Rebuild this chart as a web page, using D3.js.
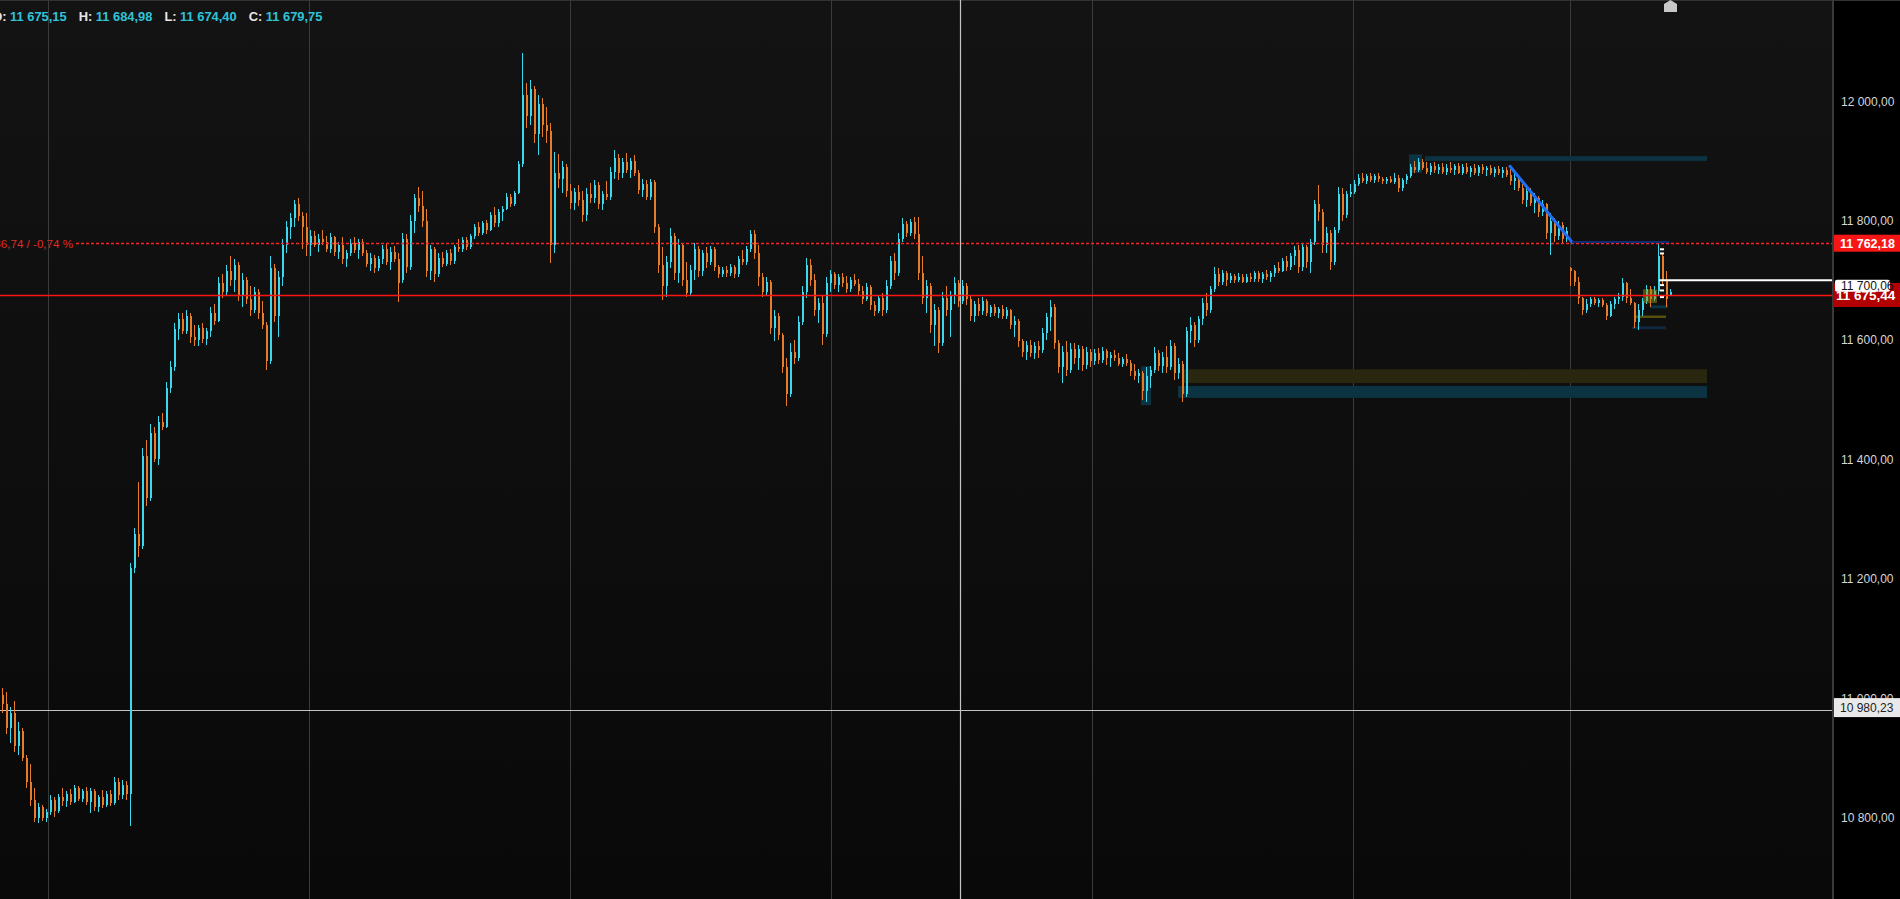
<!DOCTYPE html>
<html><head><meta charset="utf-8">
<script src="https://cdn.jsdelivr.net/npm/d3@7"></script>
<style>
html,body{margin:0;padding:0;background:#000;overflow:hidden;}
svg{display:block;}
</style></head><body>
<svg id="chart" width="1900" height="899"></svg>
<script>
// ---------- DATA (OHLC bars, one array per session) ----------
const session0 = [
[11005,11018,10975,10990],[10990,11011,10940,10950],[10950,10985,10925,10975],[10975,10995,10910,10920],
[10920,10960,10905,10945],[10945,10950,10895,10900],[10900,10905,10850,10860],[10860,10890,10820,10830],
[10830,10850,10792,10800],[10800,10825,10791,10818],[10818,10822,10795,10800],[10800,10815,10792,10810],
[10810,10838,10805,10830],[10830,10835,10801,10812],[10812,10840,10808,10835],[10835,10850,10820,10828],
[10828,10845,10818,10840],[10840,10848,10822,10826],[10826,10855,10825,10850],[10850,10853,10828,10832],
[10832,10848,10826,10844],[10844,10852,10822,10826],[10826,10850,10808,10845],[10845,10848,10812,10818],
[10818,10838,10810,10834],[10834,10847,10817,10822],[10822,10845,10818,10840],[10840,10846,10820,10825],
[10825,10868,10822,10860],[10860,10866,10830,10838],[10838,10863,10832,10855],[10855,10862,10830,10840],
[10840,11226,10786,11218]];
const session1 = [
[11218,11285,11210,11275],[11275,11362,11237,11255],[11255,11420,11250,11405],[11405,11433,11322,11335],
[11335,11460,11330,11445],[11445,11455,11395,11400],[11400,11472,11390,11462],[11462,11477,11450,11455],
[11455,11530,11452,11520],[11520,11565,11512,11555],[11555,11628,11548,11618],[11618,11645,11600,11635],
[11635,11645,11610,11615],[11615,11650,11610,11640],[11640,11645,11595,11605],[11605,11625,11590,11600],
[11600,11625,11590,11620],[11620,11628,11595,11602],[11602,11620,11592,11615],[11615,11655,11605,11645],
[11645,11660,11625,11632],[11632,11705,11630,11695],[11695,11710,11670,11680],[11680,11725,11675,11715],
[11715,11740,11690,11700],[11700,11735,11680,11725],[11725,11730,11665,11675],[11675,11712,11655,11700],
[11700,11705,11660,11668],[11668,11690,11640,11650],[11650,11688,11645,11680],[11680,11686,11635,11645],
[11645,11665,11618,11625],[11625,11630,11550,11565],[11565,11740,11560,11720],[11720,11728,11630,11640],
[11640,11715,11605,11705],[11705,11770,11690,11760],[11760,11800,11745,11790],[11790,11812,11770,11805],
[11805,11835,11790,11828],[11828,11838,11800,11808],[11808,11815,11752,11790],[11790,11812,11740,11760]];
const session2 = [
[11760,11785,11740,11775],[11775,11782,11755,11760],[11760,11778,11748,11770],[11770,11784,11760,11765],
[11765,11775,11748,11752],[11752,11780,11746,11772],[11772,11775,11740,11748],[11748,11765,11735,11760],
[11760,11772,11728,11735],[11735,11750,11722,11745],[11745,11770,11740,11762],[11762,11772,11745,11750],
[11750,11770,11735,11765],[11765,11770,11740,11745],[11745,11750,11722,11728],[11728,11745,11715,11738],
[11738,11742,11712,11720],[11720,11740,11715,11735],[11735,11760,11728,11752],[11752,11762,11725,11730],
[11730,11755,11718,11748],[11748,11758,11730,11735],[11735,11746,11663,11695],[11700,11780,11695,11770],
[11770,11778,11712,11722],[11722,11810,11718,11800],[11800,11845,11780,11838],[11838,11856,11815,11825],
[11825,11850,11790,11800],[11800,11820,11705,11715],[11715,11760,11700,11752],[11752,11756,11698,11710],
[11710,11745,11705,11738],[11738,11748,11722,11728],[11728,11750,11724,11745],[11745,11752,11725,11732],
[11732,11760,11728,11755],[11755,11770,11748,11752],[11752,11772,11748,11768],[11768,11772,11750,11756],
[11756,11778,11752,11775],[11775,11795,11770,11790],[11790,11798,11775,11780],[11780,11800,11776,11796],
[11796,11801,11778,11784],[11784,11815,11782,11810],[11810,11823,11790,11796],[11796,11820,11790,11815],
[11815,11825,11800,11820],[11820,11846,11818,11840],[11840,11845,11822,11828],[11828,11850,11824,11846],
[11846,11900,11845,11895],[11895,12080,11890,12010],[12010,12030,11955,11975],[11975,12035,11960,12020],
[12020,12025,11930,11945],[11945,12010,11910,11995],[11995,12005,11940,11960],[11960,11990,11930,11950],
[11950,11963,11729,11760],[11760,11915,11746,11880],[11880,11912,11855,11870],[11870,11900,11846,11890],
[11890,11895,11840,11850],[11850,11862,11820,11830]];
const session3 = [
[11830,11855,11818,11848],[11848,11860,11825,11835],[11835,11850,11797,11810],[11810,11855,11800,11845],
[11845,11863,11830,11838],[11838,11868,11830,11860],[11860,11864,11820,11828],[11828,11850,11818,11845],
[11845,11866,11835,11840],[11840,11890,11835,11882],[11882,11918,11870,11905],[11905,11912,11868,11880],
[11880,11905,11872,11898],[11898,11913,11880,11885],[11885,11905,11872,11900],[11900,11910,11875,11880],
[11880,11885,11845,11852],[11852,11870,11840,11862],[11862,11868,11834,11840],[11840,11870,11835,11865],
[11865,11868,11780,11790],[11790,11795,11712,11725],[11725,11756,11667,11690],[11690,11740,11672,11730],
[11730,11787,11720,11775],[11775,11780,11700,11712],[11712,11770,11695,11760],[11760,11762,11690,11700],
[11700,11730,11672,11678],[11678,11725,11675,11718],[11718,11762,11700,11752],[11752,11758,11705,11715],
[11715,11750,11708,11745],[11745,11755,11720,11730],[11730,11758,11725,11752],[11752,11756,11715,11722],
[11722,11725,11704,11710],[11710,11722,11705,11718],[11718,11724,11706,11712],[11712,11728,11708,11722],
[11722,11726,11704,11710],[11710,11740,11705,11735],[11735,11750,11725,11730],[11730,11758,11726,11752],
[11752,11784,11748,11778],[11778,11785,11735,11745],[11745,11760,11690,11705],[11705,11712,11672,11680],
[11680,11705,11675,11698],[11698,11700,11610,11620],[11620,11650,11598,11640],[11640,11645,11600,11608],
[11608,11612,11545,11555],[11555,11570,11490,11510],[11510,11595,11505,11580],[11580,11600,11560,11570],
[11570,11640,11565,11630],[11630,11690,11625,11680],[11680,11738,11670,11725],[11725,11735,11690,11700],
[11700,11710,11640,11650],[11650,11670,11628,11662],[11662,11675,11592,11610],[11610,11705,11605,11695],
[11695,11718,11680,11710]];
const session4 = [
[11710,11714,11685,11692],[11692,11710,11680,11705],[11705,11712,11688,11695],[11695,11708,11678,11685],
[11685,11705,11680,11700],[11700,11710,11690,11694],[11694,11702,11675,11682],[11682,11690,11660,11668],
[11668,11695,11665,11688],[11688,11692,11650,11658],[11658,11665,11640,11648],[11648,11675,11645,11670],
[11670,11678,11640,11650],[11650,11700,11645,11690],[11690,11740,11685,11732],[11732,11745,11700,11712],
[11712,11780,11708,11770],[11770,11805,11765,11795],[11795,11800,11772,11780],[11780,11802,11775,11798],
[11798,11806,11770,11778],[11778,11806,11700,11712],[11712,11740,11660,11670],[11670,11700,11645,11690],
[11690,11695,11612,11625],[11625,11660,11590,11650],[11650,11655,11578,11595],[11595,11680,11590,11670],
[11670,11690,11640,11650],[11650,11682,11605,11675],[11675,11705,11660,11695],[11695,11700,11655,11665],
[11665,11700,11660,11690],[11690,11695,11658,11668],[11668,11676,11632,11640],[11640,11665,11630,11660],
[11660,11670,11640,11648],[11648,11672,11642,11666],[11666,11668,11640,11645],[11645,11658,11638,11655],
[11655,11660,11640,11645],[11645,11656,11637,11652],[11652,11658,11635,11640],[11640,11655,11636,11650],
[11650,11652,11618,11625],[11625,11640,11605,11632],[11632,11636,11588,11598],[11598,11602,11572,11580],
[11580,11598,11566,11592],[11592,11600,11572,11578],[11578,11596,11568,11590],[11590,11598,11570,11584],
[11584,11620,11578,11612],[11612,11645,11600,11638],[11638,11667,11615,11655],[11655,11660,11585,11595],
[11595,11600,11545,11555],[11555,11590,11528,11580],[11580,11598,11540,11550],[11550,11595,11545,11585],
[11585,11595,11560,11570],[11570,11592,11550,11585],[11585,11590,11548,11558],[11558,11588,11552,11580],
[11580,11585,11555,11565]];
const session5 = [
[11565,11585,11558,11578],[11578,11586,11560,11566],[11566,11588,11562,11582],[11582,11585,11558,11570],
[11570,11580,11555,11575],[11575,11584,11565,11570],[11570,11578,11556,11560],[11560,11572,11555,11568],
[11568,11576,11556,11562],[11562,11566,11540,11548],[11548,11560,11533,11540],[11540,11552,11528,11545],
[11545,11548,11500,11515],[11515,11555,11496,11540],[11540,11556,11520,11550],[11550,11588,11545,11578],
[11578,11584,11548,11556],[11556,11580,11545,11572],[11572,11590,11545,11555],[11555,11600,11550,11590],
[11590,11595,11533,11545],[11545,11570,11535,11560],[11560,11565,11496,11510],[11510,11622,11505,11615],
[11615,11638,11595,11625],[11625,11630,11588,11600],[11600,11640,11595,11635],[11635,11670,11625,11662],
[11662,11679,11640,11650],[11650,11690,11645,11685],[11685,11722,11680,11710],[11710,11720,11690,11698],
[11698,11718,11692,11712],[11712,11715,11690,11700],[11700,11712,11696,11708],[11708,11710,11695,11700],
[11700,11712,11697,11706],[11706,11710,11695,11698],[11698,11710,11696,11705],[11705,11712,11697,11702],
[11702,11715,11698,11712],[11712,11716,11698,11702],[11702,11714,11695,11710],[11710,11717,11700,11705],
[11705,11716,11698,11712],[11712,11725,11705,11720],[11720,11730,11712,11716],[11716,11738,11714,11732],
[11732,11740,11715,11722],[11722,11746,11718,11740],[11740,11758,11725,11750],[11750,11760,11712,11722],
[11722,11762,11715,11755],[11755,11760,11720,11730],[11730,11770,11712,11765],[11765,11835,11760,11828],
[11828,11860,11800,11815],[11815,11820,11746,11760],[11760,11790,11745,11780],[11780,11785,11717,11730],
[11730,11790,11725,11785],[11785,11856,11780,11845],[11845,11855,11800,11810],[11810,11850,11805,11845],
[11845,11862,11840,11848],[11848,11868,11845,11862]];
const session6 = [
[11862,11878,11858,11872],[11872,11880,11863,11866],[11866,11878,11862,11875],[11875,11880,11865,11868],
[11868,11878,11863,11874],[11874,11880,11864,11870],[11870,11873,11862,11866],[11866,11873,11862,11870],
[11870,11874,11863,11865],[11865,11880,11862,11872],[11872,11876,11848,11855],[11855,11872,11850,11868],
[11868,11878,11862,11875],[11875,11895,11872,11890],[11890,11900,11880,11885],[11885,11905,11882,11898],
[11898,11903,11884,11888],[11888,11898,11878,11882],[11882,11896,11876,11892],[11892,11898,11880,11884],
[11884,11895,11878,11890],[11890,11896,11878,11882],[11882,11894,11876,11888],[11888,11898,11880,11885],
[11885,11895,11877,11892],[11892,11896,11878,11880],[11880,11894,11876,11890],[11890,11896,11878,11882],
[11882,11892,11873,11888],[11888,11894,11876,11880],[11880,11893,11874,11890],[11890,11895,11878,11884],
[11884,11892,11875,11888],[11888,11893,11877,11880],[11880,11890,11873,11886],[11886,11892,11876,11879],
[11879,11890,11872,11885],[11885,11889,11873,11876],[11876,11890,11860,11866],[11866,11880,11851,11872],
[11872,11875,11850,11855],[11855,11862,11828,11835],[11835,11858,11823,11850],[11850,11855,11825,11830],
[11830,11846,11812,11838],[11838,11842,11806,11815],[11815,11835,11808,11828],[11828,11830,11770,11780],
[11780,11812,11742,11800],[11800,11805,11765,11775],[11775,11800,11768,11792],[11792,11798,11762,11770],
[11770,11790,11765,11782]];
const session7 = [
[11720,11722,11690,11715],[11715,11718,11690,11698],[11698,11705,11660,11670],[11670,11672,11642,11650],
[11650,11668,11645,11660],[11660,11672,11655,11668],[11668,11672,11658,11662],[11662,11670,11656,11667],
[11667,11670,11655,11658],[11658,11662,11633,11640],[11640,11665,11638,11660],[11660,11672,11652,11668],
[11668,11679,11660,11672],[11672,11704,11665,11695],[11695,11698,11662,11670],[11670,11685,11658,11662],
[11662,11664,11620,11630],[11630,11660,11617,11650],[11650,11670,11640,11665],[11665,11692,11660,11685],
[11685,11690,11655,11668],[11668,11690,11665,11682],[11682,11762,11675,11740],[11740,11746,11690,11700],
[11700,11715,11655,11668],[11675.15,11684.98,11674.40,11679.75]];
const sessions = [session0, session1, session2, session3, session4, session5, session6, session7];
const sessionStart = [0, 33, 77, 143, 208, 273, 339, 392];   // bar number of each session's first bar
const dayBreaks = [11.5, 76.75, 142, 207.25, 272.5, 337.75, 392]; // time gridlines (bar number)
const yTicks = [10800, 11000, 11200, 11400, 11600, 11800, 12000];
const headerLabels = ["O:", "H:", "L:", "C:"];
const headerValues = [11675.15, 11684.98, 11674.40, 11679.75];
const lastPrice = 11675.44;
const refPrice = 11762.18;
const markPrice = 11700.06;
const crossPrice = 10980.23;
const crossBar = 239.5;
// zones: [fromBar, toBar, topPrice, bottomPrice, kind]
const zones = [
  [355.75, 426.25, 11908, 11900, "teal"],
  [351.75, 355, 11911, 11880, "teal"],
  [295.5, 426.25, 11551, 11528, "olive"],
  [294, 426.25, 11523, 11503, "teal"],
  [284.75, 287.25, 11556, 11491, "teal"],
  [412, 416.5, 11658, 11653, "teal"],
  [408.25, 416, 11641, 11637, "oliveLine"],
  [407.5, 416, 11623, 11618, "navy"]
];
const highlight = [410.25, 413.75, 11685, 11662];
const trend = [[377, 11891], [392.5, 11764]];
const flatLevel = [392.5, 416.75, 11764];
const markLineStart = 414.25;
const lastTicks = [11752, 11745, 11692, 11683, 11672];

// ---------- RENDER ----------
const FONT = "'Liberation Sans', Arial, sans-serif";
const W = 1900, H = 899, plotR = 1833;
const svg = d3.select("#chart");
const loc = d3.formatLocale({decimal: ",", thousands: " ", grouping: [3], currency: ["", ""], minus: "-"});
const f2 = loc.format(",.2f");

const bars = [];
sessions.forEach((s, k) => s.forEach((b, j) => bars.push({i: sessionStart[k] + j, o: b[0], h: b[1], l: b[2], c: b[3]})));

const x = d3.scaleLinear().domain([0, 417]).range([2, 1670]);
const y = d3.scaleLinear().domain([10800, 12000]).range([817.7, 101.2]);
const snap = v => Math.round(v) + 0.5;

const defs = svg.append("defs");
const gr = defs.append("linearGradient").attr("id", "bg").attr("x1", 0).attr("y1", 0).attr("x2", 0).attr("y2", 1);
gr.append("stop").attr("offset", "0%").attr("stop-color", "#131313");
gr.append("stop").attr("offset", "100%").attr("stop-color", "#090909");
svg.append("rect").attr("width", plotR).attr("height", H).attr("fill", "url(#bg)");
svg.append("rect").attr("x", plotR).attr("width", W - plotR).attr("height", H).attr("fill", "#000");
svg.append("rect").attr("width", W).attr("height", 1).attr("fill", "#333");

// gridlines
svg.append("g").selectAll("line").data(dayBreaks).join("line")
  .attr("x1", d => snap(x(d))).attr("x2", d => snap(x(d)))
  .attr("y1", 0).attr("y2", H).attr("stroke", "#3b3b3b").attr("stroke-width", 1);

// zones
const zoneColor = {teal: "#0c3341", olive: "#29270f", oliveLine: "#57530f", navy: "#112840"};
svg.append("g").selectAll("rect").data(zones).join("rect")
  .attr("x", d => x(d[0])).attr("width", d => x(d[1]) - x(d[0]))
  .attr("y", d => y(d[2])).attr("height", d => y(d[3]) - y(d[2]))
  .attr("fill", d => zoneColor[d[4]]);

// crosshair
svg.append("line").attr("x1", snap(x(crossBar))).attr("x2", snap(x(crossBar)))
  .attr("y1", 0).attr("y2", H).attr("stroke", "#c4c4c4").attr("stroke-width", 1.2);
svg.append("line").attr("x1", 0).attr("x2", plotR).attr("y1", snap(y(crossPrice))).attr("y2", snap(y(crossPrice)))
  .attr("stroke", "#c4c4c4").attr("stroke-width", 1.2);

// candles
const UP = "#3ed8ec", DN = "#e67d2c";
const col = d => d.c >= d.o ? UP : DN;
const gC = svg.append("g").attr("shape-rendering", "crispEdges");
gC.append("g").selectAll("rect").data(bars).join("rect")
  .attr("x", d => Math.round(x(d.i))).attr("width", 1)
  .attr("y", d => y(d.h)).attr("height", d => Math.max(1, y(d.l) - y(d.h)))
  .attr("fill", col);
gC.append("g").selectAll("rect").data(bars).join("rect")
  .attr("x", d => Math.round(x(d.i))).attr("width", 2)
  .attr("y", d => y(Math.max(d.o, d.c))).attr("height", d => Math.max(1, Math.abs(y(d.o) - y(d.c))))
  .attr("fill", col);

// highlight box over last bars
svg.append("rect").attr("x", x(highlight[0])).attr("width", x(highlight[1]) - x(highlight[0]))
  .attr("y", y(highlight[2])).attr("height", y(highlight[3]) - y(highlight[2]))
  .attr("fill", "rgba(150,140,10,0.5)");
svg.append("g").selectAll("rect").data(lastTicks).join("rect")
  .attr("x", x(414.5)).attr("width", 4).attr("y", d => y(d) - 1).attr("height", 2).attr("fill", "#fff");

// red lines
svg.append("line").attr("x1", 0).attr("x2", plotR).attr("y1", snap(y(lastPrice))).attr("y2", snap(y(lastPrice)))
  .attr("stroke", "#ff1414").attr("stroke-width", 1.6);
svg.append("line").attr("x1", 76).attr("x2", plotR).attr("y1", snap(y(refPrice))).attr("y2", snap(y(refPrice)))
  .attr("stroke", "#ff2020").attr("stroke-width", 1.6).attr("stroke-dasharray", "3,2");
const diff = lastPrice - refPrice;
svg.append("text").attr("x", 73).attr("y", y(refPrice) + 4.5).attr("text-anchor", "end")
  .attr("font-family", FONT).attr("font-size", 11.6).attr("fill", "#e02a22")
  .text(f2(diff) + " / " + f2(diff / refPrice * 100) + " %");

// trend line and flat level
svg.append("line").attr("x1", x(trend[0][0])).attr("y1", y(trend[0][1])).attr("x2", x(trend[1][0])).attr("y2", y(trend[1][1]))
  .attr("stroke", "#1f6ef5").attr("stroke-width", 3).attr("stroke-linecap", "round");
svg.append("line").attr("x1", x(flatLevel[0])).attr("x2", x(flatLevel[1])).attr("y1", y(flatLevel[2])).attr("y2", y(flatLevel[2]))
  .attr("stroke", "#0f2c78").attr("stroke-width", 2);
// white level line
svg.append("line").attr("x1", x(markLineStart)).attr("x2", plotR).attr("y1", y(markPrice)).attr("y2", y(markPrice))
  .attr("stroke", "#ffffff").attr("stroke-width", 2);

// top marker (house icon) at last bar
const mx = x(417) + 0.5;
svg.append("path").attr("d", `M${mx},0 L${mx + 6.5},4 L${mx + 6.5},12 L${mx - 6.5},12 L${mx - 6.5},4 Z`).attr("fill", "#c8c8c8");

// header
const hdr = svg.append("g").attr("font-family", FONT).attr("font-weight", "bold").attr("font-size", 12.9);
let cx = 0;
headerLabels.forEach((lab, k) => {
  const t1 = hdr.append("text").attr("y", 21).attr("fill", "#e6e6e6").text(lab);
  const w1 = t1.node().getComputedTextLength();
  if (k === 0) cx = 10 - 3.5 - w1;
  t1.attr("x", cx);
  cx += w1 + 3.5;
  const t2 = hdr.append("text").attr("x", cx).attr("y", 21).attr("fill", "#2fc3d8").text(f2(headerValues[k]));
  cx += t2.node().getComputedTextLength() + 12;
});

// right axis
svg.append("rect").attr("x", plotR - 1).attr("width", 2).attr("height", H).attr("fill", "#3a3a3a");
const ax = svg.append("g").attr("transform", `translate(${plotR},0)`)
  .call(d3.axisRight(y).tickValues(yTicks).tickSize(0).tickPadding(8).tickFormat(f2));
ax.select(".domain").remove();
ax.selectAll("text").attr("font-family", FONT).attr("font-size", 12).attr("fill", "#d6d6d6");

// price tags
function tag(p, fill, txtFill, bold, fs, x0, w, h, dy, rx) {
  const yy = y(p) + dy;
  svg.append("rect").attr("x", x0).attr("y", yy - h / 2).attr("width", w).attr("height", h).attr("fill", fill).attr("rx", rx);
  svg.append("text").attr("x", x0 + 3 + (x0 > plotR ? 3 : 0)).attr("y", yy).attr("dy", "0.35em")
    .attr("font-family", FONT).attr("font-size", fs).attr("font-weight", bold ? "bold" : "normal")
    .attr("fill", txtFill).text(f2(p));
}
tag(refPrice, "#f71616", "#fff", true, 12.5, plotR + 1, W - plotR, 17, 0, 0);
tag(lastPrice, "#b20000", "#fff", true, 13.5, plotR, W - plotR, 24, 0, 0);
tag(markPrice, "#ffffff", "#111", false, 12, plotR + 2, 55, 12, 5.5, 2);
tag(crossPrice, "#e9e9e9", "#222", false, 12, plotR + 1, W - plotR, 19, -2.5, 0);
</script>
</body></html>
